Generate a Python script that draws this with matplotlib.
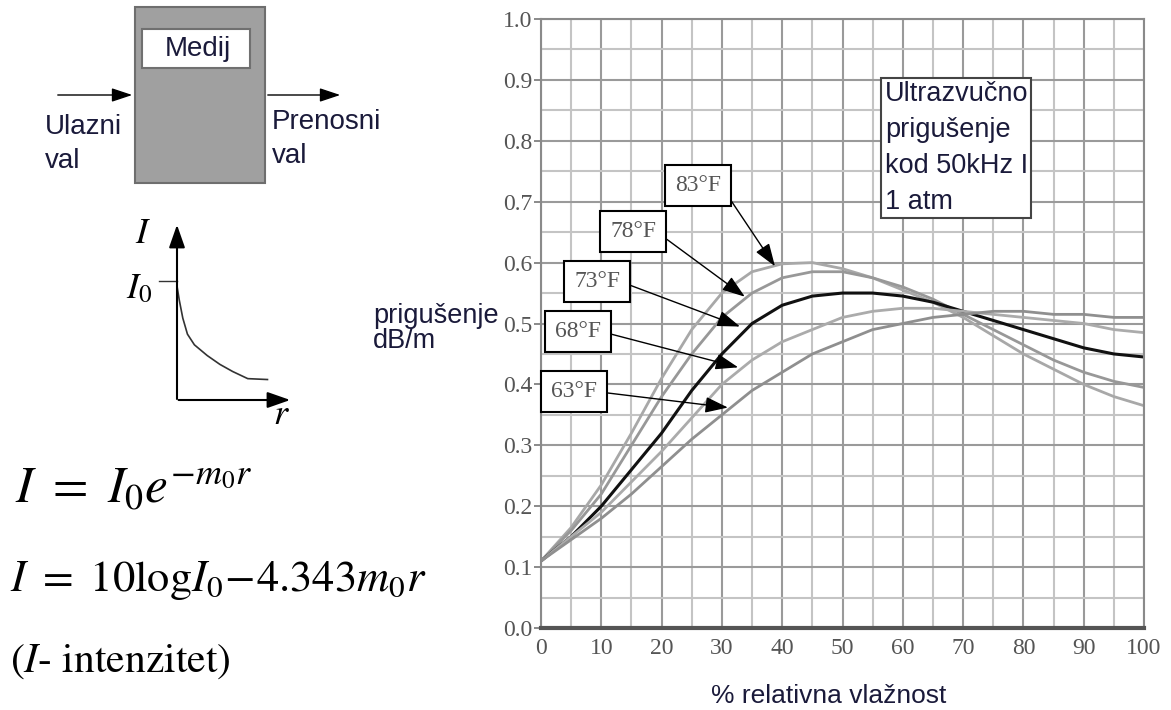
import matplotlib
matplotlib.use("Agg")
import matplotlib.pyplot as plt
from matplotlib.patches import Rectangle
import numpy as np

plt.rcParams['mathtext.fontset'] = 'stix'

# humidity (%) and attenuation (dB/m)
humidity = [0, 5, 10, 15, 20, 25, 30, 35, 40, 45, 50, 55, 60, 65, 70, 75, 80, 85, 90, 95, 100]
att_83 = [0.11, 0.165, 0.235, 0.32, 0.41, 0.49, 0.55, 0.585, 0.598, 0.60, 0.59, 0.575, 0.555, 0.535,
          0.51, 0.48, 0.45, 0.425, 0.40, 0.38, 0.365]
att_78 = [0.11, 0.16, 0.22, 0.30, 0.38, 0.45, 0.51, 0.55, 0.575, 0.585, 0.585, 0.575, 0.56, 0.54,
          0.515, 0.49, 0.465, 0.44, 0.42, 0.405, 0.395]
att_73 = [0.11, 0.15, 0.20, 0.26, 0.32, 0.39, 0.45, 0.50, 0.53, 0.545, 0.55, 0.55, 0.545, 0.535,
          0.52, 0.505, 0.49, 0.475, 0.46, 0.45, 0.445]
att_68 = [0.11, 0.15, 0.19, 0.24, 0.29, 0.345, 0.40, 0.44, 0.47, 0.49, 0.51, 0.52, 0.525, 0.525,
          0.52, 0.515, 0.51, 0.505, 0.50, 0.49, 0.485]
att_63 = [0.11, 0.145, 0.18, 0.22, 0.265, 0.31, 0.35, 0.39, 0.42, 0.45, 0.47, 0.49, 0.50, 0.51,
          0.515, 0.52, 0.52, 0.515, 0.515, 0.51, 0.51]

series = [('83°F', att_83, '#a8a8a8'), ('78°F', att_78, '#989898'), ('73°F', att_73, '#111111'),
          ('68°F', att_68, '#ababab'), ('63°F', att_63, '#8f8f8f')]

# label box centres and arrow tips (data coords)
label_pos = [(26.0, 0.727), (15.3, 0.651), (9.3, 0.569), (6.1, 0.487), (5.5, 0.388)]
arrow_tip = [(38.8, 0.594), (33.8, 0.544), (33.0, 0.495), (32.7, 0.428), (31.0, 0.362)]

# schematic I(r) decay in the little sketch
r_pts = [0, 0.02, 0.05, 0.09, 0.15, 0.26, 0.37, 0.48, 0.61, 0.78]
i_pts = [0.64, 0.56, 0.46, 0.37, 0.31, 0.25, 0.20, 0.16, 0.12, 0.115]

W, H = 1171, 710
fig = plt.figure(figsize=(W / 100, H / 100), dpi=100)

# ---- background overlay in pixel coords for the schematic ----
bg = fig.add_axes([0, 0, 1, 1])
bg.set_xlim(0, W)
bg.set_ylim(H, 0)
bg.axis('off')

txt_col = '#1a1a3a'
bg.add_patch(Rectangle((135, 7), 130, 176, fc='#a0a0a0', ec='#6e6e6e', lw=1.5))
bg.add_patch(Rectangle((142, 29), 108, 39, fc='white', ec='#707070', lw=1.5))
bg.text(198, 49, 'Medij', fontsize=20, family='Liberation Sans', ha='center', va='center', color=txt_col)
bg.annotate('', xy=(135, 95), xytext=(55, 95),
            arrowprops=dict(arrowstyle='-|>,head_length=0.9,head_width=0.3', color='black', lw=1, mutation_scale=14))
bg.annotate('', xy=(343, 95), xytext=(265, 95),
            arrowprops=dict(arrowstyle='-|>,head_length=0.9,head_width=0.3', color='black', lw=1, mutation_scale=14))
# multi-line baseline alignment uses the last line
bg.text(45, 168, 'Ulazni\nval', fontsize=20, family='Liberation Sans', ha='left', va='baseline',
        linespacing=1.42, color=txt_col)
bg.text(272, 163, 'Prenosni\nval', fontsize=20, family='Liberation Sans', ha='left', va='baseline',
        linespacing=1.42, color=txt_col)

bg.text(15, 503, r'$I\ =\ I_0e^{-m_0r}$', fontsize=37, ha='left', va='baseline')
bg.text(10, 591, r'$I\ =\ 10\mathrm{log}I_0\!-\!4.343m_0r$', fontsize=32, ha='left', va='baseline')
bg.text(10, 672, r'($\mathit{I}$- intenzitet)', fontsize=30, family='STIXGeneral', ha='left', va='baseline')

bg.text(373, 348, 'prigušenje\ndB/m', fontsize=19.5, family='Liberation Sans', ha='left', va='baseline',
        linespacing=0.95, color=txt_col)
bg.text(829, 703, '% relativna vlažnost', fontsize=19, family='Liberation Sans', ha='center', va='baseline',
        color=txt_col)

# ---- little I vs r sketch ----
sk = fig.add_axes([177 / W, (H - 400) / H, (293 - 177) / W, (400 - 222) / H])
sk.set_xlim(0, 1)
sk.set_ylim(0, 1)
sk.axis('off')
sk.plot(r_pts, i_pts, color='#333333', lw=1.2)
arr = dict(arrowstyle='-|>,head_length=1.0,head_width=0.35', color='black', lw=1.5, mutation_scale=14)
sk.annotate('', xy=(0, 1.0), xytext=(0, -0.01), arrowprops=arr, annotation_clip=False)
sk.annotate('', xy=(1.0, 0), xytext=(-0.01, 0), arrowprops=arr, annotation_clip=False)
sk.plot([-0.155, 0], [0.67, 0.67], color='#333333', lw=1, clip_on=False)
sk.text(-0.29, 0.94, r'$I$', fontsize=26, ha='center', va='center')
sk.text(-0.33, 0.63, r'$I_0$', fontsize=26, ha='center', va='center')
sk.text(0.9, -0.08, r'$r$', fontsize=26, ha='center', va='center')

# ---- main chart ----
ax = fig.add_axes([541 / W, (H - 628) / H, (1144 - 541) / W, (628 - 19) / H])
ax.set_xlim(0, 100)
ax.set_ylim(0, 1.0)
ax.set_xticks(np.arange(0, 101, 10))
ax.set_xticks(np.arange(0, 101, 5), minor=True)
ax.set_yticks(np.arange(0, 1.01, 0.1))
ax.set_yticks(np.arange(0, 1.01, 0.05), minor=True)
ax.set_yticklabels(['%.1f' % v for v in np.arange(0, 1.01, 0.1)])
ax.grid(which='major', color='#9a9a9a', lw=1.5)
ax.grid(which='minor', color='#c4c4c4', lw=1.5)
ax.set_axisbelow(True)
ax.tick_params(axis='x', which='both', length=0, pad=7, labelsize=17, labelcolor='#555555')
ax.tick_params(axis='y', which='major', length=5, width=1.2, color='#777777', pad=1,
               labelsize=17, labelcolor='#555555')
ax.tick_params(axis='y', which='minor', length=0)
for lab in ax.get_xticklabels() + ax.get_yticklabels():
    lab.set_family('Liberation Serif')
ax.spines['bottom'].set_linewidth(3)
ax.spines['bottom'].set_color('#555555')
for s in ['left', 'top', 'right']:
    ax.spines[s].set_color('#8a8a8a')
    ax.spines[s].set_linewidth(1.5)

for (name, vals, col), pos, tip in zip(series, label_pos, arrow_tip):
    ax.plot(humidity, vals, color=col, lw=2.2 if name == '73°F' else 2.0)
    ax.annotate(name, xy=tip, xytext=pos, ha='center', va='center', fontsize=17,
                family='Liberation Serif', color='#555555',
                bbox=dict(boxstyle='square,pad=0.42', fc='white', ec='black', lw=1.5),
                arrowprops=dict(arrowstyle='-|>,head_length=1.0,head_width=0.35', color='black', lw=1,
                                mutation_scale=14, relpos=(1, 0.5), shrinkA=0, shrinkB=0))

ax.text(57.0, 0.898, 'Ultrazvučno\nprigušenje\nkod 50kHz I\n1 atm', fontsize=19.5, family='Liberation Sans',
        ha='left', va='top', linespacing=1.5, color=txt_col,
        bbox=dict(boxstyle='square,pad=0.12', fc='white', ec='#444444', lw=1.5))

fig.savefig('out.png', dpi=100)
